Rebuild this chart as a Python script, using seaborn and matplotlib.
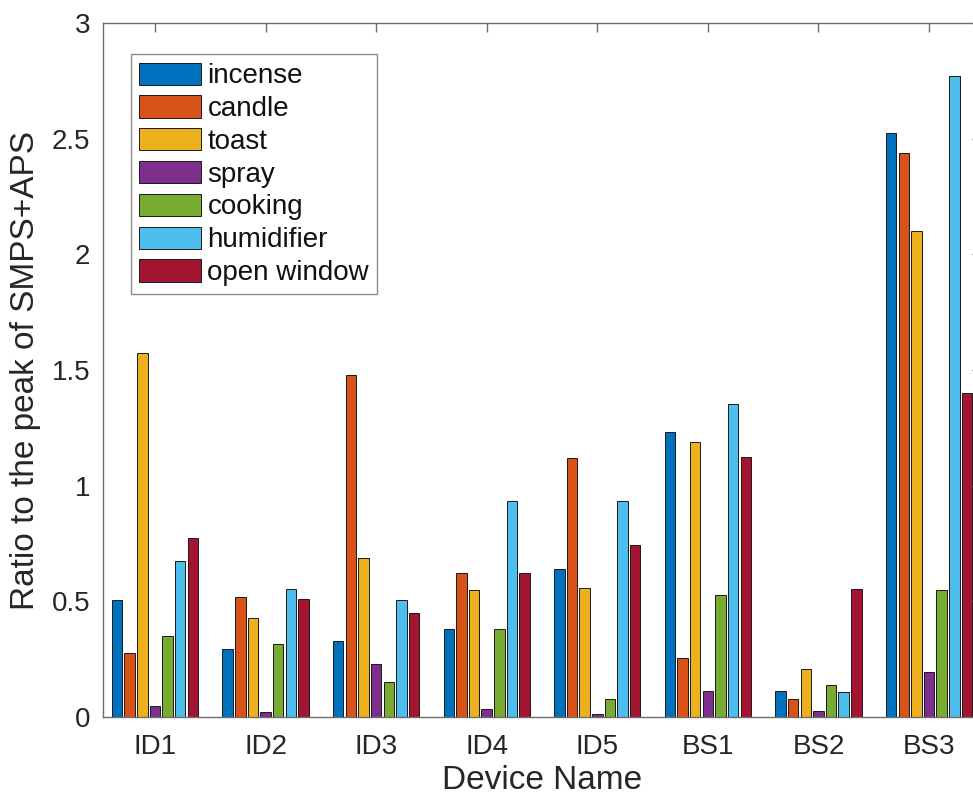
import numpy as np
import pandas as pd
import matplotlib
matplotlib.use("Agg")
import matplotlib.pyplot as plt
import seaborn as sns

# Devices and emission sources
devices = ["ID1", "ID2", "ID3", "ID4", "ID5", "BS1", "BS2", "BS3"]
sources = ["incense", "candle", "toast", "spray", "cooking", "humidifier", "open window"]

# Ratio to the SMPS+APS peak, one list per source (ordered as devices)
incense = [0.505, 0.294, 0.329, 0.382, 0.640, 1.232, 0.112, 2.523]
candle = [0.278, 0.517, 1.478, 0.621, 1.120, 0.254, 0.079, 2.436]
toast = [1.573, 0.428, 0.687, 0.550, 0.556, 1.189, 0.208, 2.100]
spray = [0.048, 0.020, 0.228, 0.035, 0.012, 0.114, 0.026, 0.195]
cooking = [0.351, 0.316, 0.151, 0.379, 0.079, 0.526, 0.140, 0.550]
humidifier = [0.676, 0.553, 0.504, 0.934, 0.933, 1.352, 0.107, 2.769]
open_window = [0.772, 0.511, 0.450, 0.621, 0.745, 1.125, 0.555, 1.401]

series = [incense, candle, toast, spray, cooking, humidifier, open_window]
colors = ["#0072BD", "#D95319", "#EDB120", "#7E2F8E", "#77AC30", "#4DBEEE", "#A2142F"]

yticks = [0, 0.5, 1, 1.5, 2, 2.5, 3]
ytick_labels = ["0", "0.5", "1", "1.5", "2", "2.5", "3"]

df = pd.DataFrame(
    [(d, s, v) for s, vals in zip(sources, series) for d, v in zip(devices, vals)],
    columns=["device", "source", "ratio"],
)

sns.set_style("white")
plt.rcParams["font.family"] = ["Liberation Sans", "DejaVu Sans"]
text_color = "#262626"
axis_color = "#6e6e6e"

fig = plt.figure(figsize=(9.73, 8.00), dpi=100)
ax = fig.add_axes([103 / 973, 83 / 800, 878 / 973, 694 / 800])

sns.barplot(
    data=df, x="device", y="ratio", hue="source",
    order=devices, hue_order=sources, palette=colors,
    width=0.8, gap=0.17, errorbar=None,
    edgecolor="#1a1a1a", linewidth=0.7, saturation=1, ax=ax,
)

ax.set_xlim(-0.47, 7.47)
ax.set_ylim(0, 3)
ax.set_yticks(yticks)
ax.set_yticklabels(ytick_labels)

for side in ["left", "right", "top", "bottom"]:
    ax.spines[side].set_visible(True)
    ax.spines[side].set_color(axis_color)
    ax.spines[side].set_linewidth(1.0)

ax.tick_params(axis="both", which="major", direction="in", length=6.5, width=1.0,
               color=axis_color, labelsize=20, labelcolor=text_color,
               top=True, right=True)
ax.tick_params(axis="x", pad=12)
ax.tick_params(axis="y", pad=9)

ax.set_xlabel("Device Name", fontsize=24, color=text_color, labelpad=4)
ax.set_ylabel("Ratio to the peak of SMPS+APS", fontsize=24, color=text_color, labelpad=8)

handles, labels = ax.get_legend_handles_labels()
leg = ax.legend(
    handles, labels, loc="upper left", bbox_to_anchor=(0.032, 0.955),
    fontsize=20, frameon=True, fancybox=False, framealpha=1,
    edgecolor="#8c8c8c", handlelength=2.2, handleheight=0.85,
    handletextpad=0.25, labelspacing=0.22, borderpad=0.3, borderaxespad=0,
)
leg.get_frame().set_linewidth(1.0)
for t in leg.get_texts():
    t.set_color("#111111")

ax.set_axisbelow(False)
fig.savefig("out.png", dpi=100)
